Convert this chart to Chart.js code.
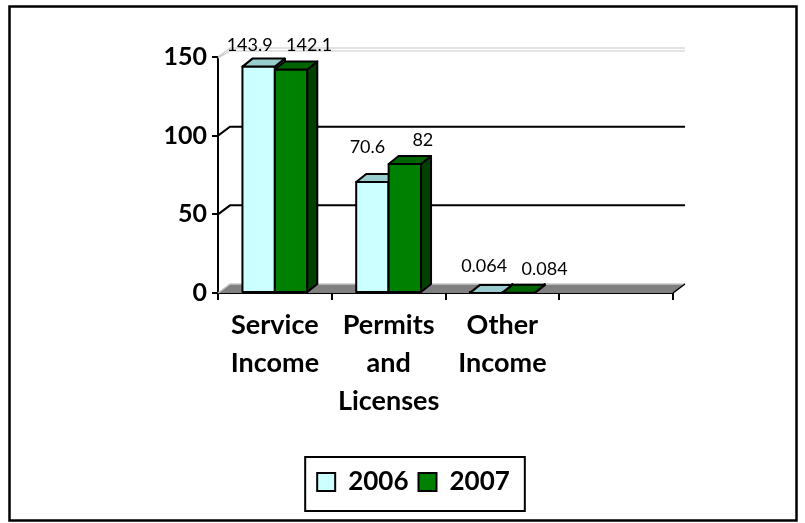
<!DOCTYPE html>
<html>
<head>
<meta charset="utf-8">
<title>Income 2006-2007</title>
<script src="https://cdn.jsdelivr.net/npm/chart.js@4.4.0/dist/chart.umd.min.js"></script>
<style>
  html, body { margin: 0; padding: 0; background: #ffffff; }
  canvas { display: block; }
</style>
</head>
<body>
<canvas id="chart" width="805" height="523"></canvas>
<script>
// ---- data ----
const categories = [["Service", "Income"], ["Permits", "and", "Licenses"], ["Other", "Income"], ""];
const seriesNames = ["2006", "2007"];
const values2006 = [143.9, 70.6, 0.064, null];
const values2007 = [142.1, 82, 0.084, null];
const yTicks = [0, 50, 100, 150];

// ---- look ----
const FONT = "Lato, 'Open Sans', 'Liberation Sans', sans-serif";
const faceColors = [
  { front: "#CCFFFF", top: "#99CCCC", side: "#6E9E9E" },
  { front: "#008000", top: "#006400", side: "#004000" }
];
const barDepth = [10, -8];   // oblique offset of bar top/side faces
const wallDepth = [12, -9];  // oblique offset of the back wall and floor
// nudges of each value label from its bar's top centre (x, baseline)
const labelNudges = [
  [[-9, -16], [-5, -29], [-2, -21]],
  [[18, -18], [18, -18], [26, -18]]
];

function poly(ctx, pts) {
  ctx.beginPath();
  ctx.moveTo(pts[0][0], pts[0][1]);
  for (let i = 1; i < pts.length; i++) ctx.lineTo(pts[i][0], pts[i][1]);
  ctx.closePath();
}

const scene3d = {
  id: "scene3d",
  beforeDraw(chart) {
    const ctx = chart.ctx;
    ctx.save();
    ctx.fillStyle = "#ffffff";
    ctx.fillRect(0, 0, chart.width, chart.height);
    ctx.restore();
  },
  beforeDatasetsDraw(chart) {
    const { ctx, chartArea: a, scales: { y } } = chart;
    const [dx, dy] = wallDepth;
    const base = y.getPixelForValue(0);
    ctx.save();
    // floor
    poly(ctx, [[a.left, base], [a.right, base], [a.right + dx, base + dy], [a.left + dx, base + dy]]);
    ctx.fillStyle = "#808080";
    ctx.fill();
    ctx.strokeStyle = "#c8c8c8";
    ctx.lineWidth = 1.5;
    ctx.beginPath();
    ctx.moveTo(a.left, base);
    ctx.lineTo(a.left + dx, base + dy);
    ctx.lineTo(a.right + dx, base + dy);
    ctx.stroke();
    ctx.strokeStyle = "#000";
    ctx.lineWidth = 1.5;
    ctx.beginPath();
    ctx.moveTo(a.right, base);
    ctx.lineTo(a.right + dx, base + dy);
    ctx.stroke();
    // back wall grid lines
    const maxV = yTicks[yTicks.length - 1];
    yTicks.forEach(v => {
      if (v === 0) return;
      const py = y.getPixelForValue(v);
      if (v === maxV) {
        ctx.strokeStyle = "#c8c8c8";
        ctx.lineWidth = 1.2;
        [0, 3].forEach(off => {
          ctx.beginPath();
          ctx.moveTo(a.left, py + off * 0.3);
          ctx.lineTo(a.left + dx, py + dy + off);
          ctx.lineTo(a.right + dx, py + dy + off);
          ctx.stroke();
        });
      } else {
        ctx.strokeStyle = "#000";
        ctx.lineWidth = 2;
        ctx.beginPath();
        ctx.moveTo(a.left, py);
        ctx.lineTo(a.left + dx, py + dy);
        ctx.lineTo(a.right + dx, py + dy);
        ctx.stroke();
      }
    });
    ctx.restore();
  },
  afterDatasetsDraw(chart) {
    const ctx = chart.ctx;
    const [dx, dy] = barDepth;
    ctx.save();
    ctx.lineWidth = 2;
    ctx.strokeStyle = "#000";
    ctx.lineJoin = "round";
    for (let i = 0; i < categories.length; i++) {
      chart.data.datasets.forEach((ds, d) => {
        if (ds.data[i] == null) return;
        const bar = chart.getDatasetMeta(d).data[i];
        if (!bar) return;
        const { x, y, base, width } = bar.getProps(["x", "y", "base", "width"], true);
        const l = x - width / 2, r = x + width / 2;
        const c = faceColors[d];
        // front
        poly(ctx, [[l, y], [r, y], [r, base], [l, base]]);
        ctx.fillStyle = c.front; ctx.fill(); ctx.stroke();
        // side
        poly(ctx, [[r, y], [r + dx, y + dy], [r + dx, base + dy], [r, base]]);
        ctx.fillStyle = c.side; ctx.fill(); ctx.stroke();
        // top
        poly(ctx, [[l, y], [r, y], [r + dx, y + dy], [l + dx, y + dy]]);
        ctx.fillStyle = c.top; ctx.fill(); ctx.stroke();
      });
    }
    ctx.restore();
  },
  afterDraw(chart) {
    const ctx = chart.ctx;
    ctx.save();
    // value labels
    ctx.font = "18px " + FONT;
    ctx.fillStyle = "#000";
    ctx.textAlign = "center";
    ctx.textBaseline = "alphabetic";
    chart.data.datasets.forEach((ds, d) => {
      const meta = chart.getDatasetMeta(d);
      ds.data.forEach((v, i) => {
        if (v == null) return;
        const bar = meta.data[i];
        const n = labelNudges[d][i] || [0, -18];
        ctx.fillText(String(v), bar.x + n[0], bar.y + n[1]);
      });
    });
    // legend frame
    const boxes = chart.legend.legendHitBoxes;
    if (boxes && boxes.length) {
      const first = boxes[0], last = boxes[boxes.length - 1];
      const left = first.left - 12, right = last.left + last.width + 15;
      const top = first.top - 12, bottom = first.top + first.height + 16;
      ctx.strokeStyle = "#000";
      ctx.lineWidth = 2;
      ctx.strokeRect(left, top, right - left, bottom - top);
    }
    // outer frame
    ctx.strokeStyle = "#000";
    ctx.lineWidth = 2.5;
    ctx.strokeRect(9.5, 6.5, 787, 514);
    ctx.restore();
  }
};

new Chart(document.getElementById("chart"), {
  type: "bar",
  data: {
    labels: categories,
    datasets: [
      { label: seriesNames[0], data: values2006, backgroundColor: faceColors[0].front,
        borderColor: "#000", borderWidth: 2, borderSkipped: false, clip: false },
      { label: seriesNames[1], data: values2007, backgroundColor: faceColors[1].front,
        borderColor: "#000", borderWidth: 2, borderSkipped: false, clip: false }
    ]
  },
  options: {
    responsive: false,
    animation: false,
    devicePixelRatio: 1,
    layout: { padding: { left: 154, right: 132, top: 57, bottom: 18 } },
    datasets: { bar: { categoryPercentage: 0.57, barPercentage: 1.0 } },
    plugins: {
      legend: {
        position: "bottom",
        labels: {
          boxWidth: 18, boxHeight: 18, padding: 10, color: "#000",
          font: { family: FONT, size: 26, weight: "bold" }
        }
      },
      tooltip: { enabled: false }
    },
    scales: {
      x: {
        z: 1,
        grid: { display: true, drawOnChartArea: false, drawTicks: true, tickLength: 7,
                color: "#000", lineWidth: 2, offset: true },
        border: { display: true, color: "#000", width: 2 },
        ticks: { color: "#000", padding: 6, maxRotation: 0, autoSkip: false,
                 font: { family: FONT, size: 27, weight: "bold", lineHeight: 1.41 } },
        afterFit(scale) { scale.height = 166; }
      },
      y: {
        z: 1,
        min: yTicks[0], max: yTicks[yTicks.length - 1],
        afterBuildTicks(scale) { scale.ticks = yTicks.map(v => ({ value: v })); },
        grid: { display: true, drawOnChartArea: false, drawTicks: true, tickLength: 6,
                color: "#000", lineWidth: 2 },
        border: { display: true, color: "#000", width: 2 },
        ticks: { color: "#000", padding: 5,
                 font: { family: FONT, size: 25, weight: "bold" } },
        afterFit(scale) { scale.width = 64; }
      }
    }
  },
  plugins: [scene3d]
});
</script>
</body>
</html>
